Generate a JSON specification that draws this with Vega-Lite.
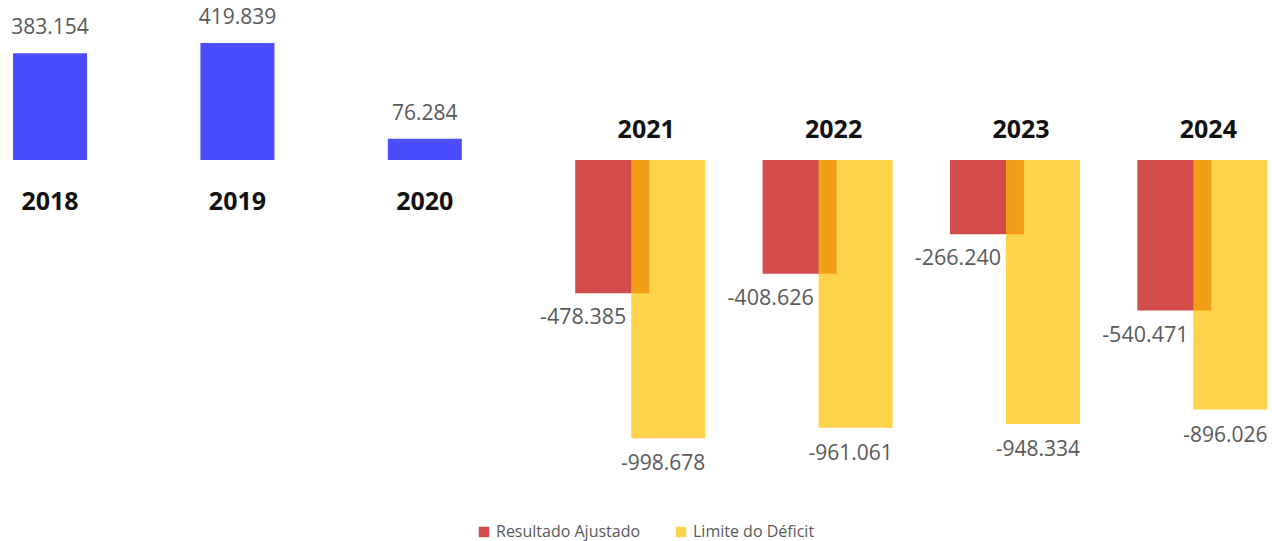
{
  "$schema": "https://vega.github.io/schema/vega-lite/v6.json",
  "width": 1272,
  "height": 541,
  "padding": 0,
  "autosize": {"type": "none"},
  "background": "white",
  "config": {
    "view": {"stroke": null},
    "font": "Open Sans",
    "locale": {"number": {"decimal": ",", "thousands": ".", "grouping": [3], "currency": ["R$ ", ""], "minus": "-"}}
  },
  "data": {
    "values": [
      {"ano": "2018", "serie": "Resultado", "valor": 383154},
      {"ano": "2019", "serie": "Resultado", "valor": 419839},
      {"ano": "2020", "serie": "Resultado", "valor": 76284},
      {"ano": "2021", "serie": "Resultado Ajustado", "valor": -478385},
      {"ano": "2022", "serie": "Resultado Ajustado", "valor": -408626},
      {"ano": "2023", "serie": "Resultado Ajustado", "valor": -266240},
      {"ano": "2024", "serie": "Resultado Ajustado", "valor": -540471},
      {"ano": "2021", "serie": "Limite do Déficit", "valor": -998678},
      {"ano": "2022", "serie": "Limite do Déficit", "valor": -961061},
      {"ano": "2023", "serie": "Limite do Déficit", "valor": -948334},
      {"ano": "2024", "serie": "Limite do Déficit", "valor": -896026}
    ]
  },
  "encoding": {
    "x": {
      "field": "ano",
      "type": "ordinal",
      "axis": null,
      "scale": {"paddingInner": 0.605, "paddingOuter": 0.1966, "align": 0.177}
    }
  },
  "layer": [
    {
      "transform": [{"filter": "datum.serie != 'Limite do Déficit'"}],
      "mark": {"type": "bar", "opacity": 0.7},
      "encoding": {
        "y": {"field": "valor", "type": "quantitative", "axis": null, "scale": {"domain": [-1368000, 574500], "nice": false, "zero": false}},
        "color": {
          "field": "serie",
          "type": "nominal",
          "scale": {"domain": ["Resultado", "Resultado Ajustado", "Limite do Déficit"], "range": ["#0000FF", "#C00000", "#FFC000"]},
          "legend": {
            "title": null,
            "values": ["Resultado Ajustado", "Limite do Déficit"],
            "orient": "none",
            "direction": "horizontal",
            "legendX": 476,
            "legendY": 524,
            "symbolType": "square",
            "symbolSize": 110,
            "symbolOpacity": 0.8,
            "symbolStrokeWidth": 0,
            "labelFont": "Open Sans",
            "labelFontSize": 16,
            "labelColor": "#595959",
            "columnPadding": 32
          }
        }
      }
    },
    {
      "transform": [{"filter": "datum.serie == 'Limite do Déficit'"}],
      "mark": {"type": "bar", "opacity": 0.7, "xOffset": 56},
      "encoding": {
        "y": {"field": "valor", "type": "quantitative"},
        "color": {"field": "serie", "type": "nominal"}
      }
    },
    {
      "transform": [{"filter": "datum.serie == 'Resultado'"}],
      "mark": {"type": "text", "dy": -25, "baseline": "middle", "fontSize": 21, "color": "#595959", "font": "Open Sans"},
      "encoding": {
        "y": {"field": "valor", "type": "quantitative"},
        "text": {"field": "valor", "type": "quantitative", "format": ","}
      }
    },
    {
      "transform": [{"filter": "datum.serie == 'Resultado Ajustado'"}],
      "mark": {"type": "text", "dy": 25, "xOffset": -29, "baseline": "middle", "fontSize": 21.5, "color": "#595959", "font": "Open Sans"},
      "encoding": {
        "y": {"field": "valor", "type": "quantitative"},
        "text": {"field": "valor", "type": "quantitative", "format": ","}
      }
    },
    {
      "transform": [{"filter": "datum.serie == 'Limite do Déficit'"}],
      "mark": {"type": "text", "dy": 26, "xOffset": 51, "baseline": "middle", "fontSize": 21, "color": "#595959", "font": "Open Sans"},
      "encoding": {
        "y": {"field": "valor", "type": "quantitative"},
        "text": {"field": "valor", "type": "quantitative", "format": ","}
      }
    },
    {
      "transform": [{"filter": "datum.serie == 'Resultado'"}],
      "mark": {"type": "text", "dy": 42, "baseline": "middle", "fontSize": 25, "fontWeight": "bold", "color": "#111111", "font": "Open Sans"},
      "encoding": {
        "y": {"datum": 0, "type": "quantitative"},
        "text": {"field": "ano", "type": "nominal"}
      }
    },
    {
      "transform": [{"filter": "datum.serie == 'Resultado Ajustado'"}],
      "mark": {"type": "text", "dy": -30, "xOffset": 34, "baseline": "middle", "fontSize": 25, "fontWeight": "bold", "color": "#111111", "font": "Open Sans"},
      "encoding": {
        "y": {"datum": 0, "type": "quantitative"},
        "text": {"field": "ano", "type": "nominal"}
      }
    }
  ]
}
